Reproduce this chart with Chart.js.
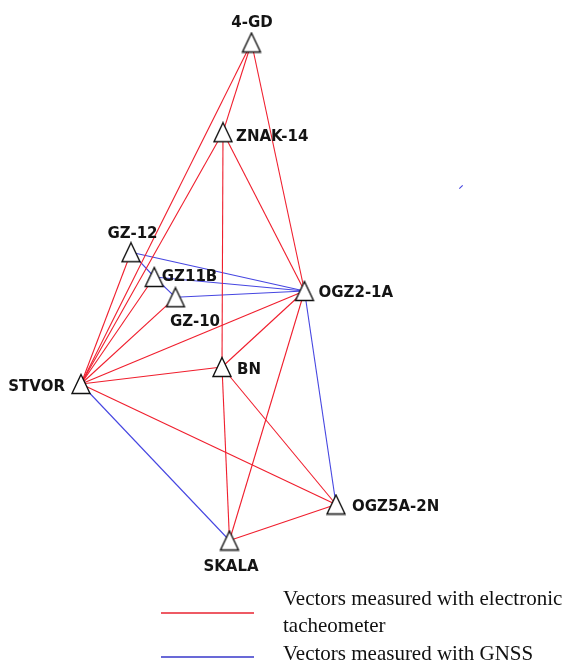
<!DOCTYPE html>
<html>
<head>
<meta charset="utf-8">
<script src="https://cdn.jsdelivr.net/npm/chart.js@4"></script>
<style>
    html, body { margin: 0; padding: 0; background: #fff; }
    #wrap { position: relative; width: 571px; height: 664px; overflow: hidden; }
    #net { position: absolute; left: 0; top: 0; }
    .key-line { position: absolute; left: 161px; width: 93px; height: 2px; }
    #key-text {
        position: absolute; left: 283px; top: 584.7px;
        font-family: "Liberation Serif", "Times New Roman", serif;
        font-size: 21px; line-height: 27.5px; color: #111; white-space: nowrap;
    }
</style>
</head>
<body>
<div id="wrap">
    <canvas id="net" width="571" height="664"></canvas>
    <div class="key-line" style="top: 612px; background: rgb(238, 90, 100);"></div>
    <div class="key-line" style="top: 656px; background: rgb(105, 105, 215);"></div>
    <div id="key-text">Vectors measured with electronic<br>tacheometer<br>Vectors measured with GNSS</div>
</div>
<script>
// station names and their positions (pixels, y down)
const stationNames = ['4-GD', 'ZNAK-14', 'GZ-12', 'GZ11B', 'GZ-10', 'OGZ2-1A', 'STVOR', 'BN', 'OGZ5A-2N', 'SKALA'];
const stationX = [251.5, 223, 131, 154.3, 175.5, 304.5, 81, 222, 336, 229.5];
const stationY = [42.5, 132.2, 252.2, 277, 297.3, 291, 384, 367, 504.5, 540.5];

// vectors measured with electronic tacheometer
const tacheometerVectors = [
    ['4-GD', 'STVOR'], ['4-GD', 'ZNAK-14'], ['4-GD', 'OGZ2-1A'],
    ['ZNAK-14', 'STVOR'], ['ZNAK-14', 'BN'], ['ZNAK-14', 'OGZ2-1A'],
    ['GZ-12', 'STVOR'], ['GZ11B', 'STVOR'], ['GZ-10', 'STVOR'],
    ['OGZ2-1A', 'STVOR'], ['BN', 'STVOR'], ['STVOR', 'OGZ5A-2N'],
    ['OGZ2-1A', 'BN'], ['OGZ2-1A', 'SKALA'], ['BN', 'SKALA'],
    ['BN', 'OGZ5A-2N'], ['SKALA', 'OGZ5A-2N']
];

// vectors measured with GNSS
const gnssVectors = [
    ['GZ-12', 'OGZ2-1A'], ['GZ11B', 'OGZ2-1A'], ['GZ-10', 'OGZ2-1A'],
    ['GZ-12', 'GZ11B'], ['GZ11B', 'GZ-10'], ['OGZ2-1A', 'OGZ5A-2N'],
    ['STVOR', 'SKALA']
];

// the little stray blue stroke right of OGZ2-1A
const strayX = [459.3, 462.7];
const strayY = [188.7, 185.3];

// where each label sits relative to its triangle
const labelPlacement = {
    '4-GD': [0.5, -21.5, 'center'],
    'ZNAK-14': [13, 3, 'left'],
    'GZ-12': [1.5, -20, 'center'],
    'GZ11B': [7.5, -2, 'left'],
    'GZ-10': [19.5, 23.5, 'center'],
    'OGZ2-1A': [14, 0.5, 'left'],
    'STVOR': [-16, 1, 'right'],
    'BN': [15, 1, 'left'],
    'OGZ5A-2N': [16, 0.5, 'left'],
    'SKALA': [1.5, 24.5, 'center']
};

const RED = 'rgb(240, 30, 45)';
const BLUE = 'rgb(70, 70, 225)';

function stationPoint(name) {
    const i = stationNames.indexOf(name);
    return { x: stationX[i], y: stationY[i] };
}

function vectorDataset(pair, color) {
    return {
        data: [stationPoint(pair[0]), stationPoint(pair[1])],
        showLine: true,
        borderColor: color,
        borderWidth: 1.1,
        pointRadius: 0,
        pointHoverRadius: 0,
        order: 1
    };
}

// triangle marker drawn once and used as the point style
const tri = document.createElement('canvas');
tri.width = 22;
tri.height = 22;
const tctx = tri.getContext('2d');
tctx.beginPath();
tctx.moveTo(11, 1.5);
tctx.lineTo(20, 20.5);
tctx.lineTo(2, 20.5);
tctx.closePath();
tctx.fillStyle = '#fff';
tctx.fill();
tctx.lineWidth = 1.4;
tctx.strokeStyle = '#111';
tctx.stroke();

const stationLabels = {
    id: 'stationLabels',
    afterDatasetsDraw(chart) {
        const ctx = chart.ctx;
        const xs = chart.scales.x;
        const ys = chart.scales.y;
        ctx.save();
        ctx.font = 'bold 15px "DejaVu Sans", Verdana, sans-serif';
        ctx.fillStyle = '#141414';
        ctx.textBaseline = 'alphabetic';
        stationNames.forEach((name, i) => {
            const p = labelPlacement[name];
            ctx.textAlign = p[2];
            ctx.fillText(name, xs.getPixelForValue(stationX[i]) + p[0], ys.getPixelForValue(stationY[i]) + p[1] + 5.5);
        });
        ctx.restore();
    }
};

const datasets = [{
    data: stationNames.map((n, i) => ({ x: stationX[i], y: stationY[i] })),
    pointStyle: tri,
    pointRadius: 10,
    pointHoverRadius: 10,
    showLine: false,
    order: 0
}];
tacheometerVectors.forEach(p => datasets.push(vectorDataset(p, RED)));
gnssVectors.forEach(p => datasets.push(vectorDataset(p, BLUE)));
datasets.push({
    data: strayX.map((x, i) => ({ x: x, y: strayY[i] })),
    showLine: true,
    borderColor: BLUE,
    borderWidth: 1.1,
    pointRadius: 0,
    order: 1
});

new Chart(document.getElementById('net'), {
    type: 'scatter',
    data: { datasets: datasets },
    options: {
        responsive: false,
        animation: false,
        events: [],
        layout: { padding: 0, autoPadding: false },
        clip: false,
        scales: {
            x: { type: 'linear', min: 0, max: 571, display: false },
            y: { type: 'linear', min: 0, max: 664, reverse: true, display: false }
        },
        plugins: {
            legend: { display: false },
            tooltip: { enabled: false }
        }
    },
    plugins: [stationLabels]
});
</script>
</body>
</html>
